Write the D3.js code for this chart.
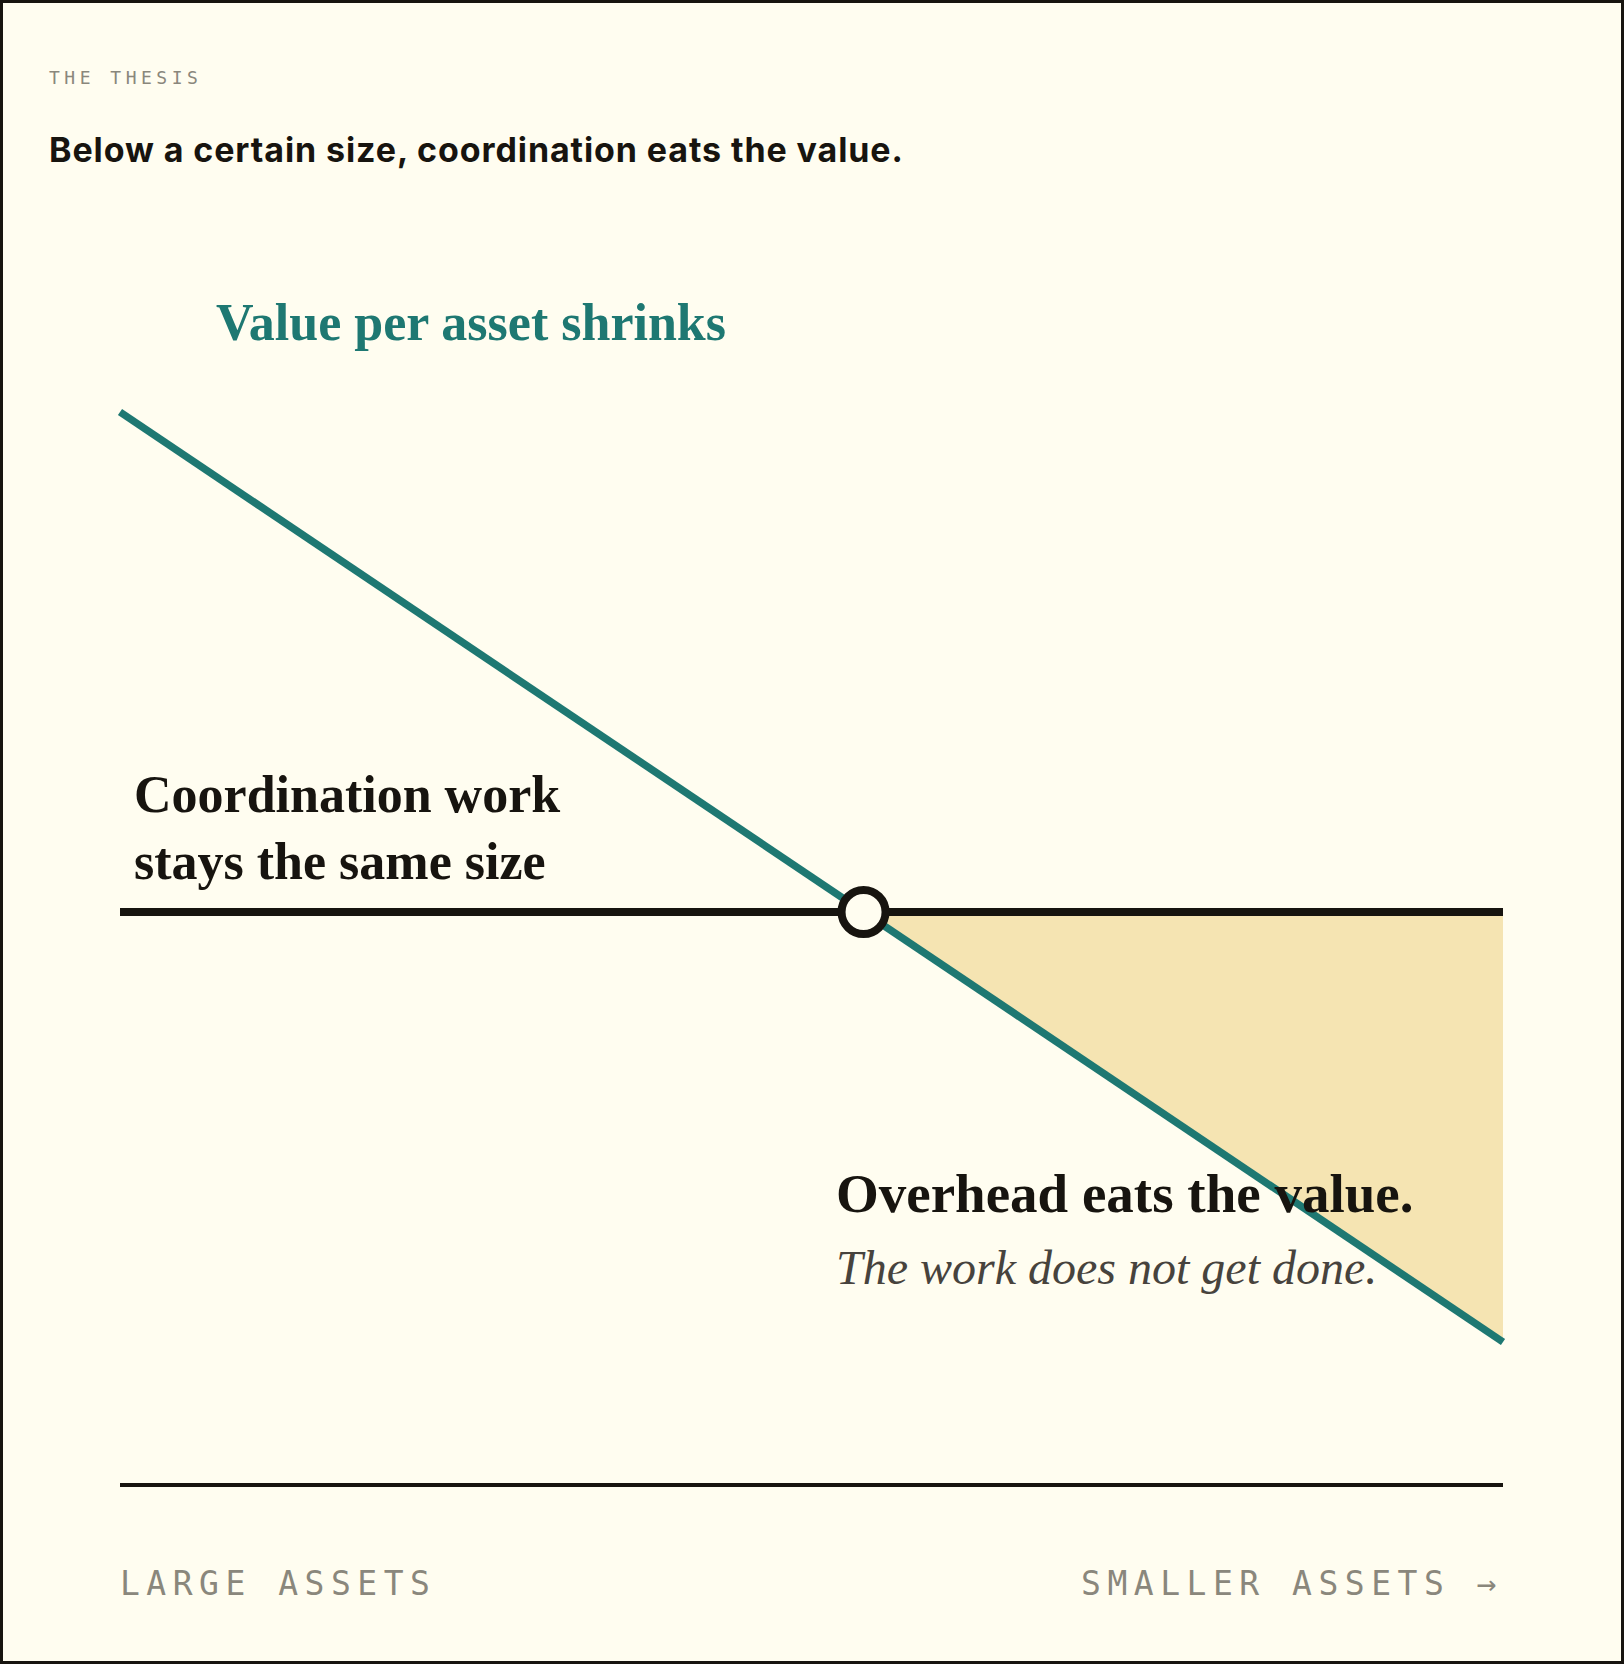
<!DOCTYPE html>
<html><head><meta charset="utf-8">
<script src="https://cdn.jsdelivr.net/npm/d3@7"></script>
<style>html,body{margin:0;padding:0;background:#fffdf0;}svg{display:block}</style>
</head><body>
<svg id="c" width="1624" height="1664"></svg>
<script>
const sizes = [0, 1];               // large assets -> smaller assets
const valuePerAsset = [10, 0.7];
const coordination = [5, 5];
const axisLabels = ["LARGE ASSETS", "SMALLER ASSETS →"];

const svg = d3.select("#c");
const W = 1624, H = 1664;
svg.append("rect").attr("x",1.5).attr("y",1.5).attr("width",W-3).attr("height",H-3)
  .attr("fill","#fffdf0").attr("stroke","#17140f").attr("stroke-width",3);

const x = d3.scaleLinear().domain([0,1]).range([120,1503]);
const y = d3.scaleLinear().domain([10,5]).range([412,912]);

const t = (valuePerAsset[0]-coordination[0]) /
          ((valuePerAsset[0]-valuePerAsset[1]) - (coordination[0]-coordination[1]));
const cv = valuePerAsset[0] + t*(valuePerAsset[1]-valuePerAsset[0]);

svg.append("path")
  .attr("d", d3.line()([[x(t),y(cv)],[x(1),y(coordination[1])],[x(1),y(valuePerAsset[1])]]))
  .attr("fill","#f5e4b2");

const line = d3.line().x((d,i)=>x(sizes[i])).y(d=>y(d));
svg.append("path").attr("d", line(coordination)).attr("fill","none")
  .attr("stroke","#17140f").attr("stroke-width",8);
svg.append("path").attr("d", line(valuePerAsset)).attr("fill","none")
  .attr("stroke","#1e7872").attr("stroke-width",7.5);
svg.append("circle").attr("cx",x(t)).attr("cy",y(cv)).attr("r",22)
  .attr("fill","#fffdf0").attr("stroke","#17140f").attr("stroke-width",8);

svg.append("line").attr("x1",x(0)).attr("x2",x(1)).attr("y1",1485).attr("y2",1485)
  .attr("stroke","#17140f").attr("stroke-width",4);

const mono = "'DejaVu Sans Mono', 'Liberation Mono', monospace";
const serif = "'Liberation Serif', 'Times New Roman', serif";
svg.append("text").attr("x",x(0)).attr("y",1595).text(axisLabels[0])
  .attr("font-family",mono).attr("font-size",33).attr("letter-spacing",6.5).attr("fill","#8a877c");
svg.append("text").attr("x",x(1)).attr("y",1595).attr("text-anchor","end").text(axisLabels[1])
  .attr("font-family",mono).attr("font-size",33).attr("letter-spacing",6.5).attr("fill","#8a877c");

svg.append("text").attr("x",49).attr("y",84).text("THE THESIS")
  .attr("font-family",mono).attr("font-size",18).attr("letter-spacing",4.5).attr("fill","#8a877c");
svg.append("text").attr("x",49).attr("y",162).text("Below a certain size, coordination eats the value.")
  .attr("font-family","Inter, sans-serif").attr("font-weight",700).attr("font-size",34)
  .attr("letter-spacing",0.9).attr("fill","#17140f");

svg.append("text").attr("x",216).attr("y",340).text("Value per asset shrinks")
  .attr("font-family",serif).attr("font-weight",700).attr("font-size",52).attr("fill","#1e7872");
svg.append("text").attr("x",134).attr("y",812).text("Coordination work")
  .attr("font-family",serif).attr("font-weight",700).attr("font-size",52).attr("fill","#17140f");
svg.append("text").attr("x",134).attr("y",879).text("stays the same size")
  .attr("font-family",serif).attr("font-weight",700).attr("font-size",52).attr("fill","#17140f");
svg.append("text").attr("x",836).attr("y",1212).text("Overhead eats the value.")
  .attr("font-family",serif).attr("font-weight",700).attr("font-size",55).attr("fill","#17140f");
svg.append("text").attr("x",836).attr("y",1284).text("The work does not get done.")
  .attr("font-family",serif).attr("font-style","italic").attr("font-size",48).attr("fill","#47433d");
</script>
</body></html>
